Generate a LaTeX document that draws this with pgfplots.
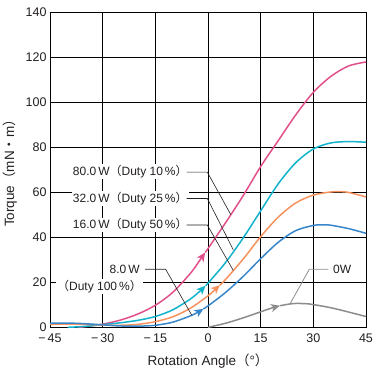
\documentclass[border=0pt]{standalone}
\usepackage{fontspec}
\setmainfont{Liberation Sans}
\newfontfamily\cjk{Noto Sans CJK JP}
\usepackage{pgfplots}
\pgfplotsset{compat=1.18}
\usetikzlibrary{arrows.meta}
\definecolor{cpink}{HTML}{E2508C}
\definecolor{ccyan}{HTML}{12B3CB}
\definecolor{corange}{HTML}{F7925E}
\definecolor{cblue}{HTML}{3886CA}
\definecolor{cgray}{HTML}{8C8C8C}
\definecolor{ctext}{HTML}{231F20}
\newcommand{\lbl}{\fontsize{12}{14}\selectfont}
\tikzset{arr/.style={-{Stealth[length=9pt,width=8pt,inset=2.5pt]}}}
\begin{document}
\begin{tikzpicture}[x=1pt,y=1pt]
\path[use as bounding box] (-50,-48.7) rectangle (327,327.3);
\begin{axis}[at={(0,0)}, anchor=south west,
  scale only axis, width=316pt, height=314.8pt,
  xmin=-45, xmax=45, ymin=0, ymax=140,
  xtick={-45,-30,...,45}, ytick={0,20,...,140},
  xticklabels={−\,45,−\,30,−\,15,0,15,30,45},
  major tick length=0pt,
  grid=major, grid style={black, line width=0.7pt},
  axis line style={black, line width=0.8pt},
  tick label style={font=\fontsize{12.5}{14}\selectfont, text=ctext},
  /pgf/number format/assume math mode=true,
  xticklabel style={yshift=-3pt},
  label style={font=\fontsize{13.5}{15}\selectfont, text=ctext},
  xlabel={Rotation Angle{\cjk （}°{\cjk ）}},
  ylabel={Torque{\cjk （}mN{\cjk ・}m{\cjk ）}},
  xlabel style={at={(axis description cs:0.5,-0.106)}, anchor=center},
  ylabel style={at={(axis description cs:-0.127,0.5)}, anchor=center},
  clip=false,
  every axis plot/.append style={line width=1.5pt, smooth, tension=0.5},
]
% 80 W (pink)
\addplot[cpink, arr] coordinates {(-37,0) (-35,0.3) (-30,1.4) (-25,3.2) (-20,5.9) (-15,9.8) (-10,15.6) (-5,24) (-3,28.3) (-0.8,33.3)};
\addplot[cpink] coordinates {(-0.8,33.3) (0,35) (5,46.5) (10,58.5) (15,71.5) (20,83) (25,94.5) (30,104.5) (35,111.6) (40,116.2) (45,118)};
% 32 W (cyan)
\addplot[ccyan, arr] coordinates {(-40,0) (-35,0.4) (-30,1.2) (-25,2.0) (-20,3.1) (-15,4.8) (-10,7.8) (-5,12.6) (-2.5,15.8) (-0.7,18.5)};
\addplot[ccyan] coordinates {(-0.7,18.5) (0,19.6) (5,28.8) (10,39.7) (15,51.8) (20,63.8) (25,73.2) (30,79.3) (35,82.0) (40,82.6) (45,82.3)};
% 16 W (orange)
\addplot[corange, arr] coordinates {(-45,1.3) (-40,1.4) (-35,1.3) (-30,1.0) (-25,0.9) (-20,1.3) (-15,2.5) (-10,4.7) (-5,8.5) (0,14) (2,16.8) (3.4,18.8)};
\addplot[corange] coordinates {(3.4,18.8) (5,21.3) (10,30.3) (15,40.3) (20,49) (25,55.3) (30,58.8) (35,60.2) (38,60.3) (40,60.0) (45,58)};
% 8 W (blue)
\addplot[cblue, arr] coordinates {(-45,1.8) (-40,1.9) (-35,1.6) (-30,1.1) (-25,0.6) (-20,0.5) (-15,0.9) (-10,2.3) (-5,5.1) (-3,6.6) (-1.3,8.2)};
\addplot[cblue] coordinates {(-1.3,8.2) (0,9.5) (5,15.5) (10,22.6) (15,30.5) (20,37.8) (25,43) (30,45.3) (33,45.6) (35,45.4) (40,43.9) (45,41.8)};
% 0 W (gray)
\addplot[cgray, arr] coordinates {(0,0) (5,1.8) (10,4.2) (15,6.9) (18,8.5) (20.5,9.6)};
\addplot[cgray] coordinates {(20.5,9.6) (23,10.3) (25,10.6) (28,10.5) (30,10.1) (35,8.7) (40,6.8) (45,4.8)};
% labels
\node[anchor=west, fill=white, inner sep=1pt, text=ctext, font=\lbl] at (axis cs:-38.8,69.2) {80.0\,W{\cjk （}Duty 10\,\%{\cjk ）}};
\node[anchor=west, fill=white, inner sep=1pt, text=ctext, font=\lbl] at (axis cs:-38.8,57.3) {32.0\,W{\cjk （}Duty 25\,\%{\cjk ）}};
\node[anchor=west, fill=white, inner sep=1pt, text=ctext, font=\lbl] at (axis cs:-38.8,45.5) {16.0\,W{\cjk （}Duty 50\,\%{\cjk ）}};
\node[anchor=east, fill=white, inner sep=1pt, text=ctext, font=\lbl] at (axis cs:-19.1,25.8) {8.0\,W};
\node[anchor=east, fill=white, inner sep=1pt, text=ctext, font=\lbl] at (axis cs:-18.5,18.0) {{\cjk （}Duty 100\,\%{\cjk ）}};
\node[anchor=west, fill=white, inner sep=1pt, text=ctext, font=\lbl] at (axis cs:35.3,25.8) {0W};
% leader lines
\draw[ctext, line width=0.6pt] (axis cs:-6.07,69.0) -- (axis cs:-0.2,69.0) -- (axis cs:6.5,50.1);
\draw[ctext, line width=0.6pt] (axis cs:-6.07,57.3) -- (axis cs:-0.2,57.3) -- (axis cs:7.2,34.5);
\draw[ctext, line width=0.6pt] (axis cs:-6.07,45.5) -- (axis cs:-0.2,45.5) -- (axis cs:7.2,25.3);
\draw[ctext, line width=0.6pt] (axis cs:-17.9,25.8) -- (axis cs:-12.05,25.8) -- (axis cs:-4.64,5.4);
\draw[cgray, line width=0.8pt] (axis cs:34.3,25.8) -- (axis cs:28.85,25.8) -- (axis cs:23.36,10.4);
\end{axis}
\end{tikzpicture}
\end{document}
